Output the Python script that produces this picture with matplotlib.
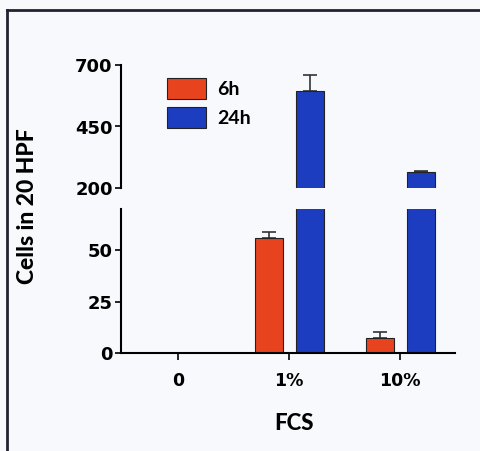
import numpy as np
import matplotlib
matplotlib.use("Agg")
import matplotlib.pyplot as plt
from matplotlib.lines import Line2D
from matplotlib.patches import Patch

categories = ['0', '1%', '10%']
series = ['6h', '24h']
values_6h = [0, 56, 7.5]
err_6h = [0, 3, 2.5]
values_24h = [0, 595, 266]
err_24h = [0, 65, 3]
colors = {'6h': '#e8431f', '24h': '#1c3dbf'}

bottom_ticks = [0, 25, 50]
top_ticks = [200, 450, 700]

W, H = 481, 451
fig = plt.figure(figsize=(W / 100, H / 100), dpi=100)
fig.patch.set_facecolor('#f8f9fc')


def fx(px):
    return px / W


def fy(py):
    return 1 - py / H


ax_top = fig.add_axes([fx(121), fy(188), fx(455) - fx(121), fy(65) - fy(188)])
ax_bot = fig.add_axes([fx(121), fy(353), fx(455) - fx(121), fy(209) - fy(353)])

x = np.arange(len(categories))
width = 0.252
offset = 0.185

for ax in (ax_top, ax_bot):
    ax.set_facecolor('none')
    for s, vals, errs, dx in (('6h', values_6h, err_6h, -offset), ('24h', values_24h, err_24h, offset)):
        ax.bar(x + dx, vals, width, color=colors[s], edgecolor='#222222', linewidth=0.8, zorder=2)
        for xi, v, e in zip(x + dx, vals, errs):
            if v > 0:
                ax.errorbar(xi, v, yerr=[[0], [e]], fmt='none', ecolor='#333333',
                            elinewidth=1.2, capsize=5, capthick=1.2, zorder=1)
    ax.set_xlim(-0.514, 2.495)
    for sp in ('top', 'right'):
        ax.spines[sp].set_visible(False)
    ax.spines['left'].set_linewidth(1.5)
    ax.spines['bottom'].set_linewidth(1.5)
    ax.tick_params(axis='y', direction='out', length=4, width=1.2, pad=2)

tick_font = dict(fontweight='bold', fontsize=13, family='DejaVu Sans')

ax_top.set_ylim(200, 700)
ax_top.set_yticks(top_ticks)
ax_top.set_yticklabels([str(t) for t in top_ticks], **tick_font)
ax_top.spines['bottom'].set_visible(False)
ax_top.set_xticks([])

ax_bot.set_ylim(0, 70)
ax_bot.set_yticks(bottom_ticks)
ax_bot.set_yticklabels([str(t) for t in bottom_ticks], **tick_font)
ax_bot.set_xticks(x)
ax_bot.set_xticklabels(categories, fontweight='bold', fontsize=12.5, family='DejaVu Sans')
ax_bot.tick_params(axis='x', direction='out', length=5, width=1.2, pad=9)

fig.text(fx(28), fy(206), 'Cells in 20 HPF', rotation=90, ha='center', va='center',
         fontsize=16.5, fontweight='black', family='Lato')
fig.text(fx(294), fy(423), 'FCS', ha='center', va='center',
         fontsize=16, fontweight='black', family='Lato')

handles = [Patch(facecolor=colors[s], edgecolor='#222222', linewidth=0.8) for s in series]
fig.legend(handles, series, loc='upper left', bbox_to_anchor=(fx(159), fy(70)),
           frameon=False, prop={'family': 'Lato', 'size': 14, 'weight': 'bold'},
           handlelength=2.0, handleheight=1.3, handletextpad=0.6, labelspacing=0.4,
           borderaxespad=0)

# image frame (left and top edges)
fig.add_artist(Line2D([fx(7), fx(7)], [fy(10), 0], color='#222233', linewidth=2))
fig.add_artist(Line2D([fx(7), 1], [fy(10), fy(10)], color='#222233', linewidth=2))

fig.savefig('out.png', dpi=100, facecolor=fig.get_facecolor())
